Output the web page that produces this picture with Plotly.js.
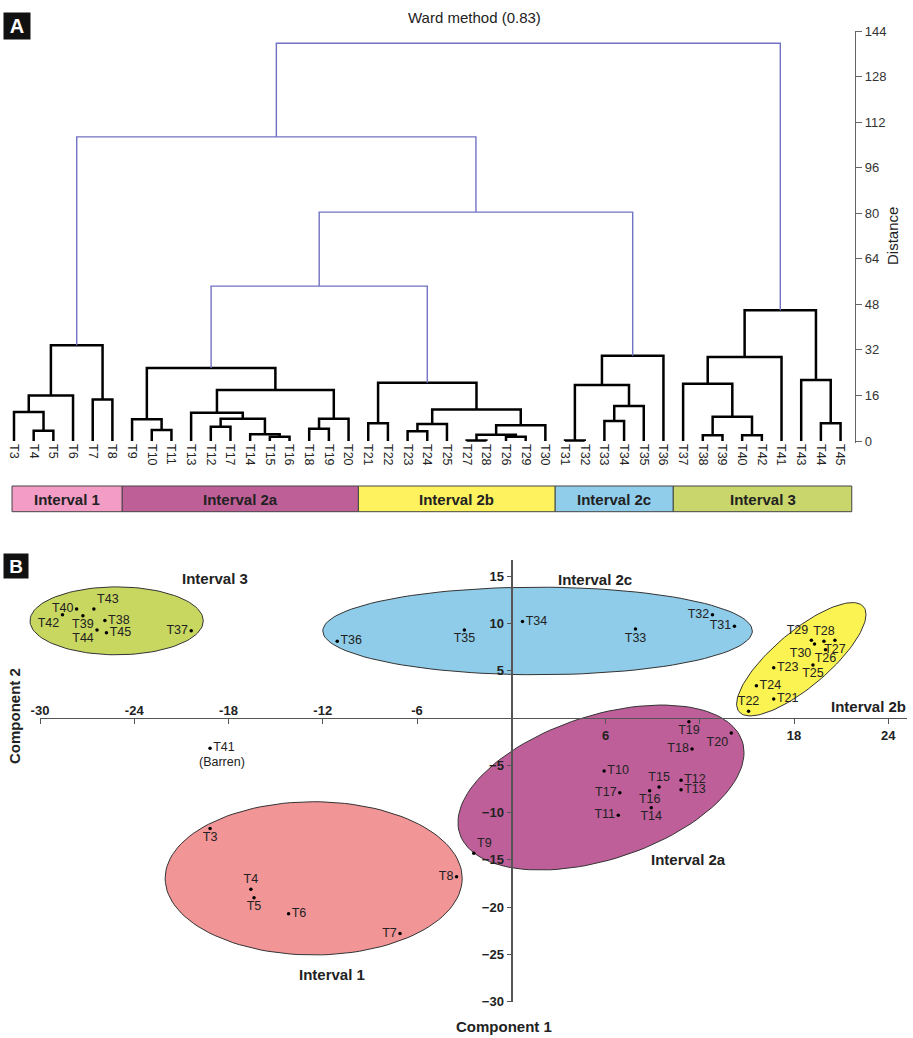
<!DOCTYPE html>
<html><head><meta charset="utf-8">
<script src="https://cdn.plot.ly/plotly-3.0.1.min.js"></script>
<style>html,body{margin:0;padding:0;background:#fff}#chart{width:913px;height:1038px}</style>
</head><body><div id="chart"></div>
<script>
// ---------------- Panel A: dendrogram data ----------------
const leaves = ['T3','T4','T5','T6','T7','T8','T9','T10','T11','T13','T12','T17','T14','T15','T16','T18','T19','T20',
  'T21','T22','T23','T24','T25','T27','T28','T26','T29','T30','T31','T32','T33','T34','T35','T36',
  'T37','T38','T39','T40','T42','T41','T43','T44','T45'];
// [node id, left child, right child, Ward distance]
const linkage = [
  ['m45','T4','T5',3.6], ['m345','T3','m45',10.2], ['m3456','m345','T6',16.0], ['m78','T7','T8',14.6], ['C1','m3456','m78',33.6],
  ['m1011','T10','T11',3.9], ['m9','T9','m1011',7.6], ['m1217','T12','T17',5.0], ['m1516','T15','T16',1.5], ['m14','T14','m1516',2.4],
  ['m1214','m1217','m14',7.8], ['m13','T13','m1214',9.9], ['m1819','T18','T19',4.3], ['m20','m1819','T20',7.8], ['m1320','m13','m20',17.9], ['C2a','m9','m1320',25.6],
  ['m2122','T21','T22',6.2], ['m2324','T23','T24',3.4], ['m25','m2324','T25',6.0], ['m2728','T27','T28',0.15], ['m2629','T26','T29',1.5],
  ['m2729','m2728','m2629',2.2], ['m30','m2729','T30',5.5], ['m2330','m25','m30',11.1], ['C2b','m2122','m2330',20.5],
  ['m3132','T31','T32',0.15], ['m3334','T33','T34',7.0], ['m35','m3334','T35',12.3], ['m3135','m3132','m35',19.7], ['C2c','m3135','T36',29.9],
  ['m3839','T38','T39',2.0], ['m4042','T40','T42',2.0], ['m3842','m3839','m4042',8.5], ['m37','T37','m3842',20.1], ['m41','m37','T41',29.5],
  ['m4445','T44','T45',6.2], ['m43','T43','m4445',21.4], ['C3','m41','m43',45.9],
  ['mD','C2a','C2b',54.4], ['mE','mD','C2c',80.4], ['mF','C1','mE',106.8], ['mG','mF','C3',139.7]
];
const upperLinks = ['mD','mE','mF','mG'];
const distanceTicks = [0,16,32,48,64,80,96,112,128,144];
const intervalNames = ['Interval 1','Interval 2a','Interval 2b','Interval 2c','Interval 3'];
const intervalLeafCounts = [6,12,10,6,9];
const intervalBarColors = ['#f39cc6','#bf5f98','#fef35e','#8fcdea','#c9d66b'];

// ---------------- Panel B: PCA data ----------------
const samples = ['T3','T4','T5','T6','T7','T8','T9','T10','T11','T12','T13','T14','T15','T16','T17','T18','T19','T20',
  'T21','T22','T23','T24','T25','T26','T27','T28','T29','T30','T31','T32','T33','T34','T35','T36',
  'T37','T38','T39','T40','T41','T42','T43','T44','T45'];
const component1 = [-19.2,-16.6,-16.4,-14.2,-7.1,-3.5,-2.4,5.9,6.8,10.8,10.8,8.9,9.4,8.8,6.9,11.5,11.3,14.0,
  16.7,15.1,16.7,15.6,19.2,20.0,20.6,19.9,19.1,19.3,14.2,12.8,7.9,0.7,-3.0,-11.1,
  -20.4,-25.9,-27.3,-27.7,-19.2,-28.6,-26.6,-26.4,-25.8];
const component2 = [-11.7,-18.1,-19.0,-20.7,-22.8,-16.8,-14.3,-5.6,-10.3,-6.6,-7.6,-9.5,-7.3,-7.7,-7.9,-3.3,-0.4,-1.6,
  2.0,0.7,5.3,3.4,5.6,7.2,8.2,8.1,8.2,7.8,9.7,10.9,9.4,10.2,9.3,8.1,
  9.2,10.3,10.8,11.5,-3.2,10.9,11.5,9.3,9.0];
const labelPositions = ['bottom center','top center','bottom center','middle right','middle left','middle left','top right',
  'middle right','middle left','middle right','middle right','bottom center','top center','bottom center','middle left',
  'middle left','bottom center','bottom left',
  'middle right','top center','middle right','middle right','bottom center','bottom center','bottom center','top center','top left','bottom left',
  'middle left','middle left','bottom center','middle right','bottom center','middle right',
  'middle left','middle right','bottom center','middle left','middle right','bottom left','top right','bottom left','middle right'];
const comp1Ticks = [-30,-24,-18,-12,-6,6,12,18,24];
const comp2Ticks = [-30,-25,-20,-15,-10,-5,5,10,15];
// ellipses: centre, half extents along the axes, correlation
const ellipseNames = ['Interval 1','Interval 2a','Interval 2b','Interval 2c','Interval 3'];
const ellipseCx = [-12.6, 5.70, 18.46, 1.66, -25.15];
const ellipseCy = [-16.96, -7.36, 6.20, 9.19, 10.26];
const ellipseHx = [9.46, 9.11, 4.12, 13.68, 5.52];
const ellipseHy = [8.1, 8.72, 5.99, 4.63, 3.59];
const ellipseR  = [0, 0.424, 0.79, 0, 0];
const ellipseColors = ['#f29596','#be5f99','#fbf351','#8ecce9','#c8d760'];

// ---------------- build ----------------
const W = 913, H = 1038;
const px = v => v / W, py = v => 1 - v / H;
const FONT = 'Liberation Sans, Arial, sans-serif';

// dendrogram geometry
const pos = {};
leaves.forEach((n, i) => pos[n] = {x: i, h: 0});
const blk = {x: [], y: []}, blu = {x: [], y: []};
linkage.forEach(([id, l, r, h]) => {
  const a = pos[l], b = pos[r];
  pos[id] = {x: (a.x + b.x) / 2, h: h};
  const t = upperLinks.includes(id) ? blu : blk;
  t.x.push(a.x, a.x, b.x, b.x, null);
  t.y.push(a.h, h, h, b.h, null);
});
const leafStep = 19.68, leaf0 = 14; // px
const xA = [-leaf0 / leafStep, (855 - leaf0) / leafStep];
const unitA = 410 / 144;
const yA = [-(443 - 441) / unitA, 144];

const traces = [
  {type: 'scatter', mode: 'lines', x: blk.x, y: blk.y, xaxis: 'x', yaxis: 'y', line: {color: '#000', width: 2.5}, hoverinfo: 'skip', showlegend: false},
  {type: 'scatter', mode: 'lines', x: blu.x, y: blu.y, xaxis: 'x', yaxis: 'y', line: {color: '#7272c4', width: 1.4}, hoverinfo: 'skip', showlegend: false}
];

// PCA scale
const ux = 15.7, uy = 9.46, x0 = 511.5, y0 = 717.9;
const xB = [(0 - x0) / ux, (W - x0) / ux];
const yB = [(y0 - H) / uy, (y0 - 548) / uy];

ellipseNames.forEach((n, k) => {
  const xs = [], ys = [];
  const s = Math.sqrt(1 - ellipseR[k] * ellipseR[k]);
  for (let i = 0; i <= 120; i++) {
    const t = 2 * Math.PI * i / 120;
    xs.push(ellipseCx[k] + ellipseHx[k] * Math.cos(t));
    ys.push(ellipseCy[k] + ellipseHy[k] * (ellipseR[k] * Math.cos(t) + s * Math.sin(t)));
  }
  traces.push({type: 'scatter', mode: 'lines', x: xs, y: ys, xaxis: 'x2', yaxis: 'y2', fill: 'toself',
    fillcolor: ellipseColors[k], line: {color: '#333', width: 1}, hoverinfo: 'skip', showlegend: false});
});
traces.push({type: 'scatter', mode: 'markers+text', x: component1, y: component2, text: samples,
  textposition: labelPositions, xaxis: 'x2', yaxis: 'y2', cliponaxis: false,
  marker: {color: '#000', size: 3.5}, textfont: {family: FONT, size: 12.5, color: '#222'}, showlegend: false});
// decoration axes (axis lines crossing at the origin)
traces.push({type: 'scatter', x: [null], y: [null], xaxis: 'x3', yaxis: 'y3', showlegend: false, hoverinfo: 'skip'});
traces.push({type: 'scatter', x: [null], y: [null], xaxis: 'x4', yaxis: 'y3', showlegend: false, hoverinfo: 'skip'});

const xRangeDeco = [-30, (906.7 - x0) / ux];
const yRangeDeco = [-30, (y0 - 560) / uy];
const boldTick = {family: FONT, size: 13, color: '#222', weight: 'bold'};

const shapes = [];
const annotations = [];
let start = 0;
intervalNames.forEach((n, k) => {
  const end = start + intervalLeafCounts[k];
  const xa = k === 0 ? -0.1 : start - 0.5;
  const xb = k === intervalNames.length - 1 ? 42.57 : end - 0.5;
  shapes.push({type: 'rect', xref: 'x', yref: 'paper', x0: xa, x1: xb, y0: py(511.7), y1: py(486),
    fillcolor: intervalBarColors[k], line: {color: '#444', width: 1}});
  annotations.push({xref: 'x', yref: 'paper', x: (xa + xb) / 2, y: py(499), text: n, showarrow: false,
    xanchor: 'center', yanchor: 'middle',
    font: {family: FONT, size: 15, color: '#222', weight: 'bold'}});
  start = end;
});

const bold15 = {family: FONT, size: 15, color: '#222', weight: 'bold'};
const ann = (x, y, text, size, extra) => Object.assign({xref: 'paper', yref: 'paper', x: px(x), y: py(y), text: text,
  xanchor: 'center', yanchor: 'middle', showarrow: false, font: {family: FONT, size: size, color: '#222'}}, extra || {});
annotations.push(
  ann(475, 17, 'Ward method (0.83)', 15),
  ann(893, 236, 'Distance', 15, {textangle: -90}),
  ann(3, 12, 'A', 19, {xanchor: 'left', yanchor: 'top', bgcolor: '#111', width: 24, height: 24, font: {family: FONT, size: 20, color: '#fff', weight: 'bold'}}),
  ann(3, 553, 'B', 19, {xanchor: 'left', yanchor: 'top', bgcolor: '#111', width: 22, height: 22, font: {family: FONT, size: 19, color: '#fff', weight: 'bold'}}),
  ann(215, 578, 'Interval 3', 15, {font: bold15}),
  ann(595, 579, 'Interval 2c', 15, {font: bold15}),
  ann(868, 706, 'Interval 2b', 15, {font: bold15}),
  ann(688, 859, 'Interval 2a', 15, {font: bold15}),
  ann(332, 974, 'Interval 1', 15, {font: bold15}),
  ann(504, 1026, 'Component 1', 15, {font: bold15}),
  ann(14, 716, 'Component 2', 15, {textangle: -90, font: bold15}),
  {xref: 'x2', yref: 'y2', x: component1[samples.indexOf('T41')], y: component2[samples.indexOf('T41')], text: '(Barren)',
   showarrow: false, xanchor: 'center', yanchor: 'middle', xshift: 12, yshift: -14, font: {family: FONT, size: 12.5, color: '#222'}}
);

const layout = {
  width: W, height: H, margin: {l: 0, r: 0, t: 0, b: 0}, paper_bgcolor: '#fff', plot_bgcolor: 'rgba(0,0,0,0)',
  showlegend: false, font: {family: FONT, color: '#222'},
  xaxis: {domain: [0, px(855)], range: xA, tickmode: 'array', tickvals: leaves.map((_, i) => i), ticktext: leaves,
    tickangle: 90, ticks: '', showline: false, showgrid: false, zeroline: false, tickfont: {family: FONT, size: 12.5, color: '#222'}},
  yaxis: {domain: [py(443), py(31)], range: yA, side: 'right', anchor: 'x', tickmode: 'array', tickvals: distanceTicks,
    ticks: 'outside', ticklen: 6, tickcolor: '#666', showline: true, linecolor: '#666', linewidth: 1.2,
    showgrid: false, zeroline: false, tickfont: {family: FONT, size: 13, color: '#333'}},
  xaxis2: {domain: [0, 1], range: xB, visible: false, anchor: 'y2'},
  yaxis2: {domain: [0, py(548)], range: yB, visible: false, anchor: 'x2'},
  xaxis3: {domain: [px(40), px(906.7)], range: xRangeDeco, anchor: 'free', position: py(y0), side: 'bottom',
    tickmode: 'array', tickvals: comp1Ticks, ticktext: comp1Ticks.map(v => v > 0 && v !== 12 ? String(v) : ''),
    ticks: 'outside', ticklen: 5, tickcolor: '#555', showline: true, linecolor: '#555', linewidth: 1.2,
    showgrid: false, zeroline: false, tickfont: boldTick},
  xaxis4: {overlaying: 'x3', range: xRangeDeco, anchor: 'free', position: py(y0), side: 'top',
    tickmode: 'array', tickvals: comp1Ticks.filter(v => v < 0), ticktext: comp1Ticks.filter(v => v < 0).map(String),
    ticks: '', showline: false, showgrid: false, zeroline: false, tickfont: boldTick},
  yaxis3: {domain: [py(1001.7), py(560)], range: yRangeDeco, anchor: 'free', position: px(x0), side: 'left',
    tickmode: 'array', tickvals: comp2Ticks, ticks: 'outside', ticklen: 5, tickcolor: '#555',
    showline: true, linecolor: '#555', linewidth: 1.2, showgrid: false, zeroline: false, tickfont: boldTick},
  shapes: shapes,
  annotations: annotations
};
Plotly.newPlot('chart', traces, layout, {staticPlot: true, displayModeBar: false});
</script></body></html>
